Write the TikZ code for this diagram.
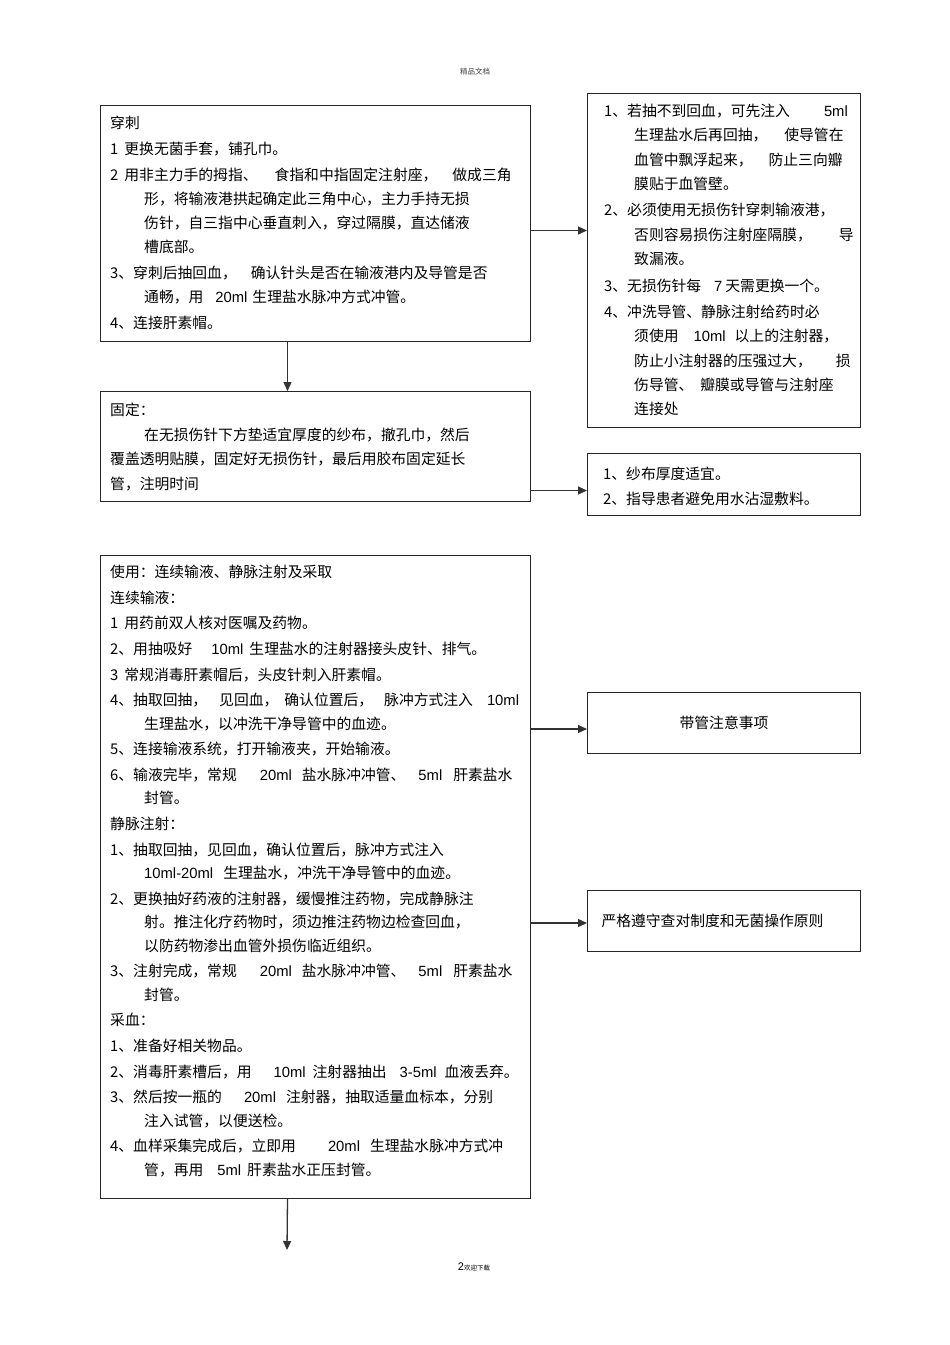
\documentclass[tikz,border=0pt]{standalone}
\usepackage{fontspec}
\setmainfont{Noto Sans CJK SC}
\newfontfamily\lsans{Liberation Sans}
\usetikzlibrary{arrows.meta,positioning}
\newcommand{\gap}[1]{\hspace*{#1pt}}
\newcommand{\ind}{\hspace*{34pt}}
\newcommand{\indb}{\hspace*{30pt}}
\newcommand{\en}[1]{{\lsans #1}}

\begin{document}
\begin{tikzpicture}[
    x=1pt, y=-1pt,
    panel/.style={draw=black!85, line width=1pt, anchor=north west, inner sep=0pt},
    body/.style={anchor=base west, inner sep=0pt, align=left, text width=#1pt,
                 font=\fontsize{14.8}{24}\selectfont},
    link/.style={-{Triangle[length=9pt,width=8pt]}, line width=1.3pt, black!80}
    ]
  \useasboundingbox (0,0) rectangle (950,1345);

  \node[font=\fontsize{7.5}{8}\selectfont, text=black!75] (header) at (475,72) {精品文档};

  % left column
  \node[panel, minimum width=430, minimum height=236] (chuanci) at (100,105) {};
  \node[body=420] (chuanciText) at ([shift={(10,23)}]chuanci.north west) {%
    穿刺\\[2pt]
    1\gap{6}更换无菌手套，铺孔巾。\\[2pt]
    2\gap{6}用非主力手的拇指、\gap{17}食指和中指固定注射座，\gap{15}做成三角\\
    \ind 形，将输液港拱起确定此三角中心，主力手持无损\\
    \ind 伤针，自三指中心垂直刺入，穿过隔膜，直达储液\\
    \ind 槽底部。\\[2pt]
    3、穿刺后抽回血，\gap{14}确认针头是否在输液港内及导管是否\\
    \ind 通畅，用\gap{12}\en{20ml}\gap{5}生理盐水脉冲方式冲管。\\[2pt]
    4、连接肝素帽。};

  \node[panel, minimum width=430, minimum height=110] (guding) at (100,391) {};
  \node[body=420, font=\fontsize{14.8}{24.5}\selectfont] (gudingText)
    at ([shift={(10,24.6)}]guding.north west) {%
    固定：\\
    \ind 在无损伤针下方垫适宜厚度的纱布，撤孔巾，然后\\
    覆盖透明贴膜，固定好无损伤针，最后用胶布固定延长\\
    管，注明时间};

  \node[panel, minimum width=430, minimum height=643] (shiyong) at (100,555) {};
  \node[body=420, font=\fontsize{14.8}{23.5}\selectfont] (shiyongText)
    at ([shift={(10,22.6)}]shiyong.north west) {%
    使用：连续输液、静脉注射及采取\\[2.1pt]
    连续输液：\\[2.1pt]
    1\gap{6}用药前双人核对医嘱及药物。\\[2.1pt]
    2、用抽吸好\gap{19}\en{10ml}\gap{6}生理盐水的注射器接头皮针、排气。\\[2.1pt]
    3\gap{6}常规消毒肝素帽后，头皮针刺入肝素帽。\\[2.1pt]
    4、抽取回抽，\gap{12}见回血，\gap{6}确认位置后，\gap{11}脉冲方式注入\gap{14}\en{10ml}\\
    \ind 生理盐水，以冲洗干净导管中的血迹。\\[2.1pt]
    5、连接输液系统，打开输液夹，开始输液。\\[2.1pt]
    6、输液完毕，常规\gap{23}\en{20ml}\gap{10}盐水脉冲冲管、\gap{13}\en{5ml}\gap{11}肝素盐水\\
    \ind 封管。\\[2.1pt]
    静脉注射：\\[2.1pt]
    1、抽取回抽，见回血，确认位置后，脉冲方式注入\\
    \ind \en{10ml-20ml}\gap{10}生理盐水，冲洗干净导管中的血迹。\\[2.1pt]
    2、更换抽好药液的注射器，缓慢推注药物，完成静脉注\\
    \ind 射。推注化疗药物时，须边推注药物边检查回血，\\
    \ind 以防药物渗出血管外损伤临近组织。\\[2.1pt]
    3、注射完成，常规\gap{23}\en{20ml}\gap{10}盐水脉冲冲管、\gap{13}\en{5ml}\gap{11}肝素盐水\\
    \ind 封管。\\[2.1pt]
    采血：\\[2.1pt]
    1、准备好相关物品。\\[2.1pt]
    2、消毒肝素槽后，用\gap{22}\en{10ml}\gap{7}注射器抽出\gap{13}\en{3-5ml}\gap{8}血液丢弃。\\[2.1pt]
    3、然后按一瓶的\gap{22}\en{20ml}\gap{10}注射器，抽取适量血标本，分别\\
    \ind 注入试管，以便送检。\\[2.1pt]
    4、血样采集完成后，立即用\gap{32}\en{20ml}\gap{10}生理盐水脉冲方式冲\\
    \ind 管，再用\gap{14}\en{5ml}\gap{6}肝素盐水正压封管。};

  % right column
  \node[panel, minimum width=273, minimum height=334] (zhuyi) at (587,93) {};
  \node[body=250, font=\fontsize{14.8}{24.2}\selectfont] (zhuyiText)
    at ([shift={(17,23.6)}]zhuyi.north west) {%
    1、若抽不到回血，可先注入\gap{34}\en{5ml}\\
    \indb 生理盐水后再回抽，\gap{17}使导管在\\
    \indb 血管中飘浮起来，\gap{16}防止三向瓣\\
    \indb 膜贴于血管壁。\\[2.5pt]
    2、必须使用无损伤针穿刺输液港，\\
    \indb 否则容易损伤注射座隔膜，\gap{27}导\\
    \indb 致漏液。\\[2.5pt]
    3、无损伤针每\gap{13}\en{7}\gap{3}天需更换一个。\\[2.5pt]
    4、冲洗导管、静脉注射给药时必\\
    \indb 须使用\gap{15}\en{10ml}\gap{9}以上的注射器，\\
    \indb 防止小注射器的压强过大，\gap{24}损\\
    \indb 伤导管、\gap{7}瓣膜或导管与注射座\\
    \indb 连接处};

  \node[panel, minimum width=273, minimum height=62] (gauze) at (587,453) {};
  \node[body=250, font=\fontsize{14.8}{25}\selectfont] (gauzeText)
    at ([shift={(16,26.6)}]gauze.north west) {%
    1、纱布厚度适宜。\\
    2、指导患者避免用水沾湿敷料。};

  \node[panel, minimum width=273, minimum height=61,
        font=\fontsize{14.8}{18}\selectfont] (tips) at (587,692) {带管注意事项};

  \node[panel, minimum height=61, text width=245pt, align=left, inner xsep=14pt,
        font=\fontsize{14.8}{18}\selectfont] (rules) at (587,890) {严格遵守查对制度和无菌操作原则};

  % connectors
  \draw[link] ([yshift=-7pt]chuanci.east) -- ([yshift=-7pt]chuanci.east -| zhuyi.west);
  \draw[link] ([xshift=-28pt]chuanci.south) -- ([xshift=-28pt]chuanci.south |- guding.north);
  \draw[link] ([yshift=-6pt]gauze.west -| guding.east) -- ([yshift=-6pt]gauze.west);
  \draw[link] ([yshift=-6pt]tips.west -| shiyong.east) -- ([yshift=-6pt]tips.west);
  \draw[link] ([yshift=-2pt]rules.west -| shiyong.east) -- ([yshift=-2pt]rules.west);
  \coordinate (next) at (287,1250);
  \draw[link] ([xshift=-28pt]shiyong.south) -- (next);

  \node (footer) at (474,1267) {\fontsize{11}{12}\selectfont\lsans 2{\fontsize{6.5}{7}\selectfont\rmfamily 欢迎下载}};
\end{tikzpicture}
\end{document}
